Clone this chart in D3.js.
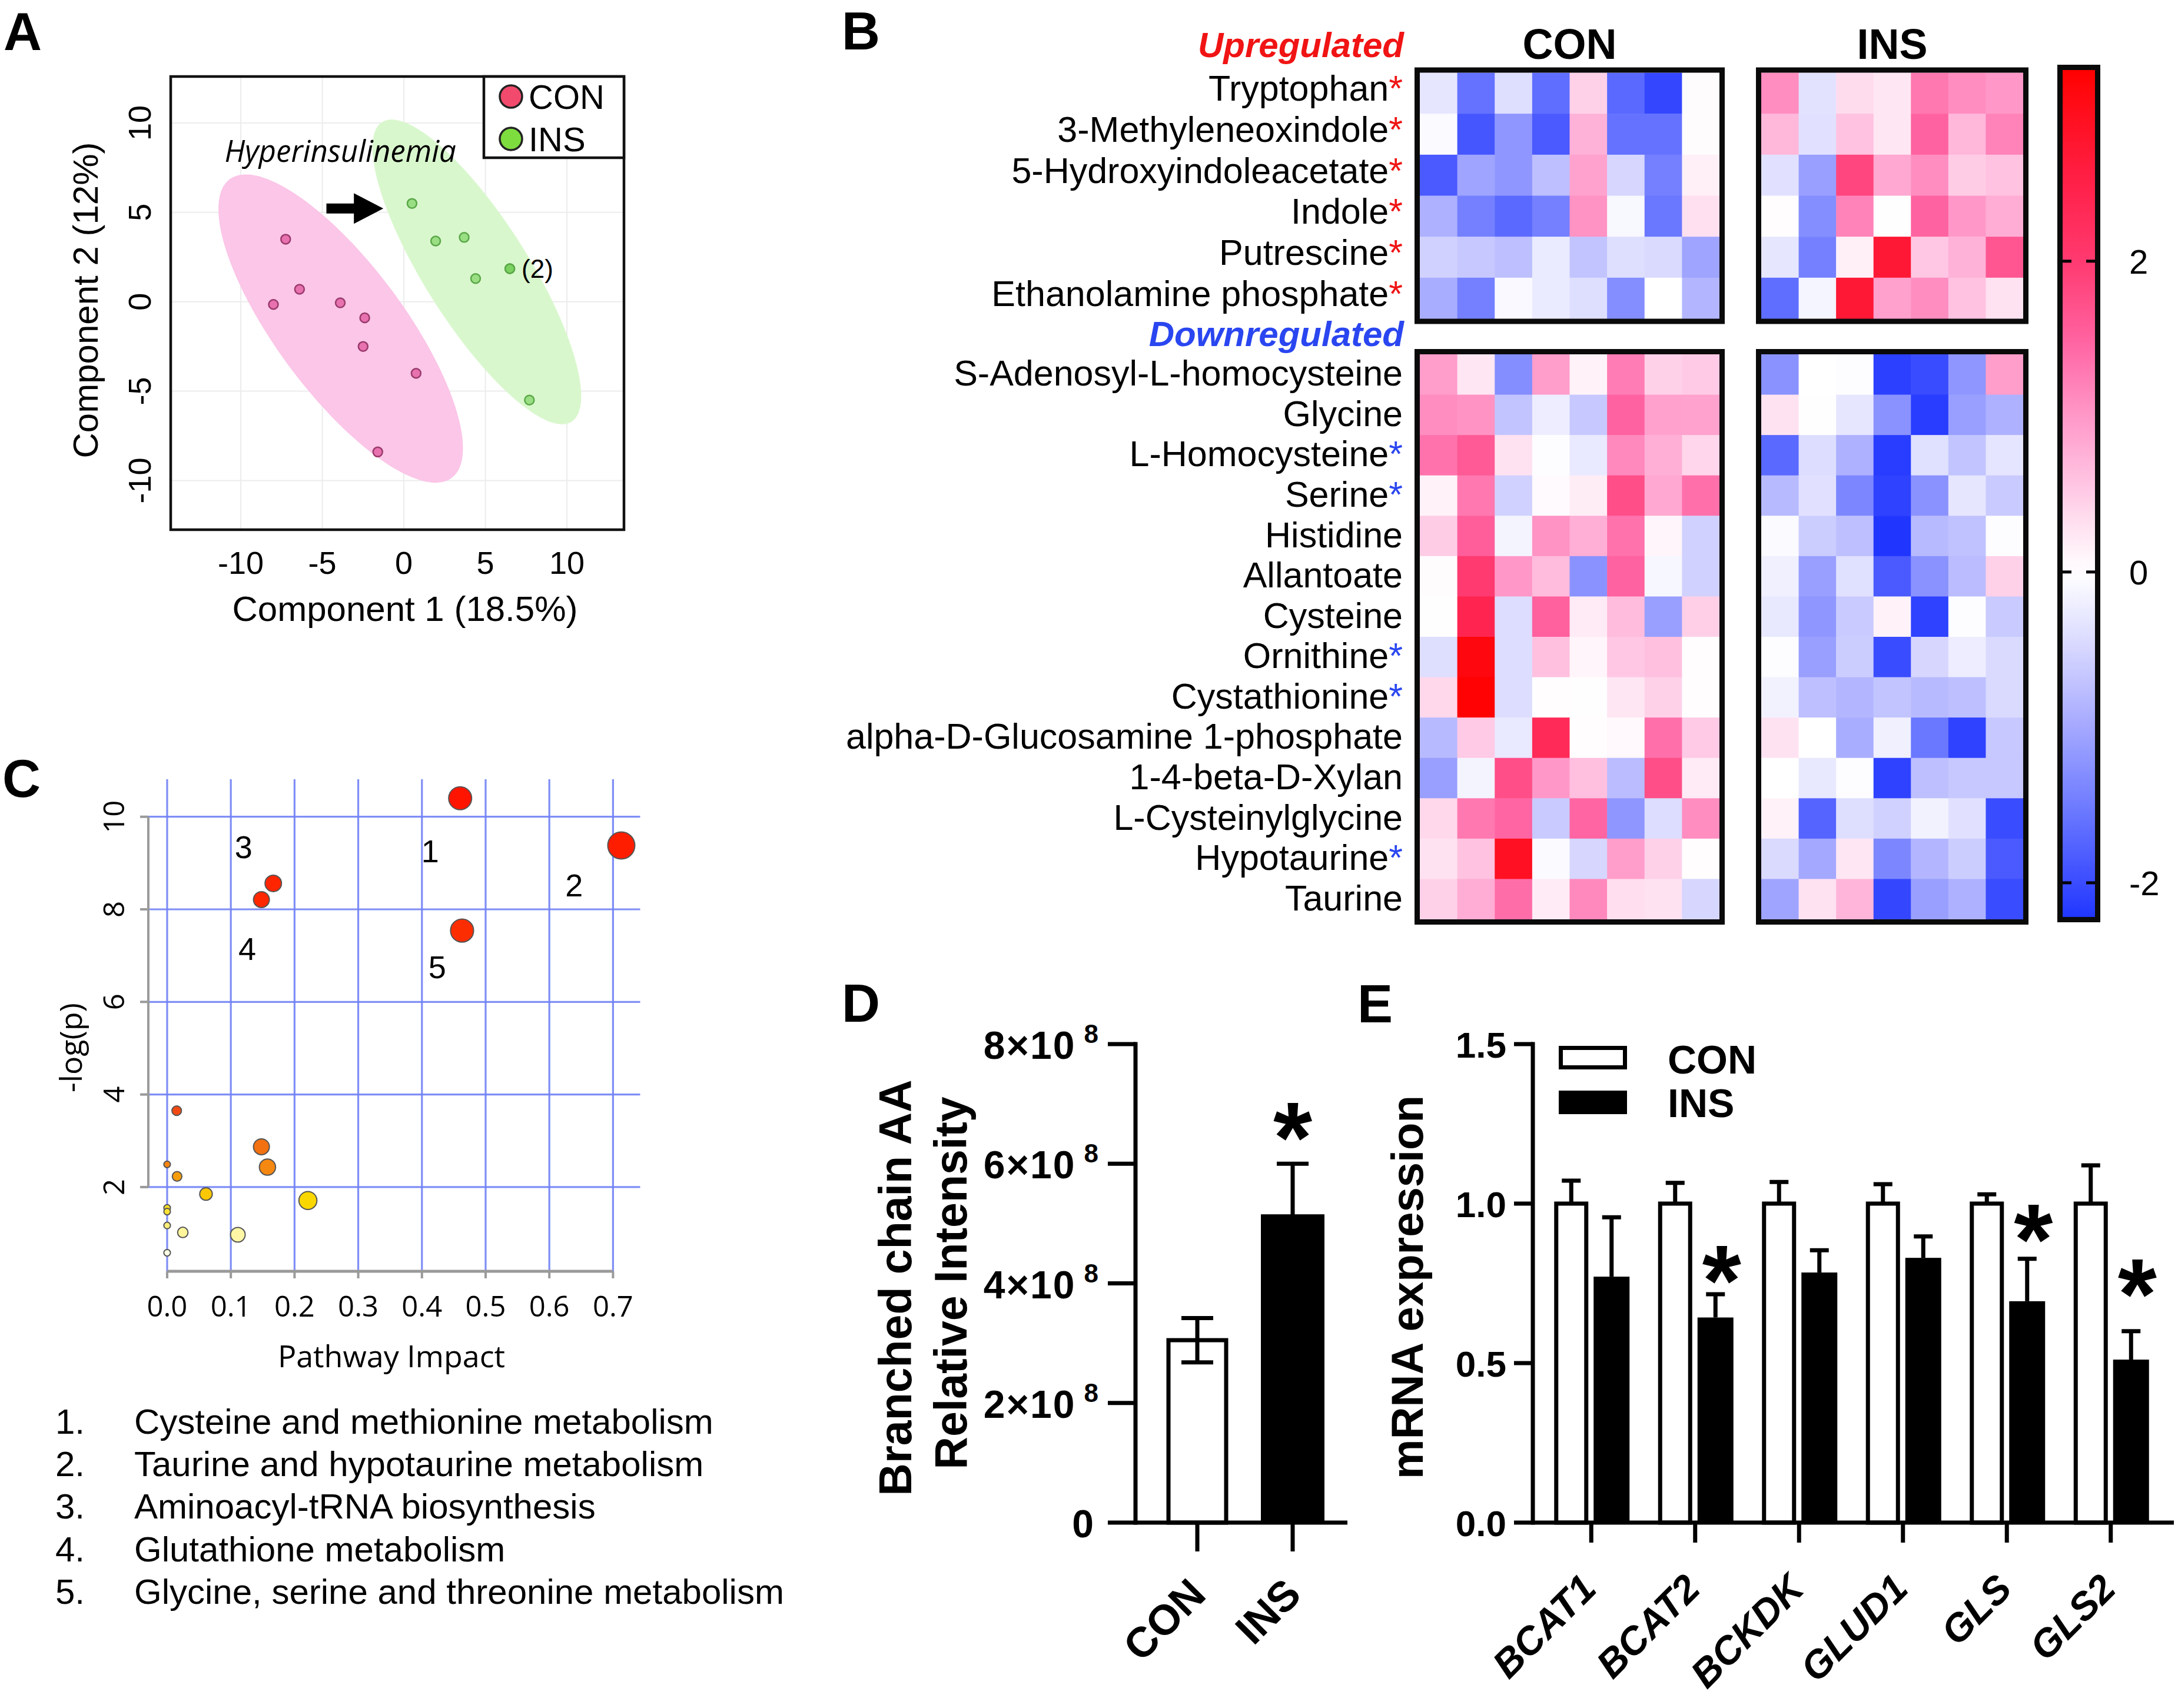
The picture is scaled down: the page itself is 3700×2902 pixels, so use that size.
<!DOCTYPE html>
<html><head><meta charset="utf-8">
<script src="https://cdn.jsdelivr.net/npm/d3@7"></script>
<style>body{margin:0;background:#fff}</style>
</head><body>
<svg id="chart" width="3700" height="2902" xmlns="http://www.w3.org/2000/svg"></svg>
<script>
// ---------------- DATA ----------------
// Panel A (PLS-DA scores)
const pcaTicks = [-10, -5, 0, 5, 10];
const conScores = [[-7.25,3.5],[-6.4,0.7],[-8.0,-0.15],[-3.9,-0.06],[-2.4,-0.9],[-2.5,-2.5],[0.75,-4.0],[-1.6,-8.4]];
const insScores = [[0.5,5.5],[1.95,3.4],[3.7,3.6],[6.5,1.85],[6.5,1.85],[4.4,1.3],[7.7,-5.5]];
// ellipse: [cx, cy, ax, ay, bx, by] in data units (centre + two conjugate half-axes)
const ellipseCON = [-3.875, -1.5, 6.72, -8.41, 3.33, 1.90];
const ellipseINS = [4.475, 1.67, 5.75, -8.41, 2.815, 1.37];
const arrowA = [-4.75, -1.26, 5.22];
const annotHyper = [-11.0, 7.81, "Hyperinsulinemia"];
const annotTwo = [7.22, 1.35, "(2)"];
const legendGroups = ["CON", "INS"];

// Panel B (heatmap)
const upNames = ["Tryptophan","3-Methyleneoxindole","5-Hydroxyindoleacetate","Indole","Putrescine","Ethanolamine phosphate"];
const upSig = [1,1,1,1,1,1];
const downNames = ["S-Adenosyl-L-homocysteine","Glycine","L-Homocysteine","Serine","Histidine","Allantoate","Cysteine","Ornithine","Cystathionine","alpha-D-Glucosamine 1-phosphate","1-4-beta-D-Xylan","L-Cysteinylglycine","Hypotaurine","Taurine"];
const downSig = [0,0,1,1,0,0,0,1,1,0,0,0,1,0];
const conUp = [
 [-0.3,-1.6,-0.4,-1.65,0.45,-1.7,-2.05,0.03],
 [-0.05,-1.9,-1.2,-1.85,0.75,-1.6,-1.6,0.03],
 [-1.85,-1.05,-1.2,-0.75,0.9,-0.5,-1.45,0.15],
 [-0.9,-1.45,-1.7,-1.45,1.05,-0.08,-1.55,0.3],
 [-0.55,-0.65,-0.75,-0.25,-0.7,-0.4,-0.45,-1.05],
 [-0.95,-1.45,-0.07,-0.25,-0.4,-1.3,0,-0.85]];
const insUp = [
 [1.1,-0.35,0.35,0.25,1.3,1.1,1.0],
 [0.7,-0.37,0.6,0.25,1.5,0.7,1.2],
 [-0.37,-1.1,1.85,0.85,1.1,0.5,0.6],
 [0.02,-1.3,1.2,0.01,1.5,1.0,0.8],
 [-0.3,-1.45,0.15,2.7,0.55,0.75,1.65],
 [-1.65,-0.12,2.7,0.92,1.1,0.6,0.28]];
const conDown = [
 [0.95,0.25,-1.3,0.95,0.12,1.25,0.45,0.52],
 [1.1,1.05,-0.7,-0.22,-0.65,1.5,0.92,0.9],
 [1.35,1.6,0.28,-0.03,-0.27,1.15,0.78,0.4],
 [0.13,1.3,-0.55,0.05,0.18,1.75,0.85,1.37],
 [0.5,1.55,-0.14,1.05,0.78,1.35,0.1,-0.55],
 [0.03,2.0,1.0,0.65,-1.25,1.5,-0.1,-0.55],
 [0.01,2.4,-0.42,1.52,0.2,0.65,-1.1,0.47],
 [-0.4,3.1,-0.42,0.62,0.1,0.55,0.62,0.02],
 [0.38,3.2,-0.42,0.02,0.01,0.25,0.45,0.02],
 [-0.8,0.52,-0.27,2.3,0.02,0.07,1.37,0.52],
 [-1.1,-0.14,1.75,1.0,0.62,-0.78,1.75,0.2],
 [0.38,1.3,1.47,-0.63,1.47,-1.2,-0.42,1.1],
 [0.28,0.6,2.9,-0.05,-0.5,0.95,0.45,0.02],
 [0.45,0.8,1.4,0.2,1.15,0.32,0.28,-0.5]];
const insDown = [
 [-1.25,0,-0.02,-2.12,-2.0,-1.2,0.95],
 [0.28,0.01,-0.3,-1.25,-2.15,-1.1,-0.9],
 [-1.7,-0.42,-0.9,-2.15,-0.38,-0.7,-0.32],
 [-0.8,-0.37,-1.38,-2.1,-1.25,-0.3,-0.63],
 [-0.05,-0.6,-0.75,-2.22,-0.8,-0.72,-0.02],
 [-0.18,-1.1,-0.38,-1.85,-1.25,-0.78,0.45],
 [-0.28,-1.2,-0.63,0.12,-2.1,-0.02,-0.63],
 [-0.02,-1.1,-0.6,-2.0,-0.5,-0.22,-0.45],
 [-0.16,-0.75,-0.85,-0.7,-0.8,-0.75,-0.45],
 [0.28,0,-0.95,-0.18,-1.55,-2.1,-0.65],
 [0,-0.28,-0.02,-2.1,-0.75,-0.65,-0.65],
 [0.12,-1.75,-0.4,-0.55,-0.16,-0.37,-2.0],
 [-0.45,-1.0,0.25,-1.38,-0.85,-0.6,-1.85],
 [-1.05,0.28,0.72,-2.05,-1.1,-0.9,-2.0]];
const colorbarTicks = [2, 0, -2];
const colorDomain = [-2.22, 3.23];

// Panel C (pathway analysis)
const pathImpact = [0.46,0.713,0.1666,0.148,0.463,0.015,0.148,0.1575,0.0,0.0156,0.061,0.221,0.0,0.0,0.0,0.0246,0.111,0.0];
const pathLogP   = [10.40,9.38,8.56,8.21,7.54,3.65,2.87,2.43,2.49,2.23,1.85,1.71,1.55,1.47,1.17,1.02,0.97,0.58];
const impactTicks = [0,0.1,0.2,0.3,0.4,0.5,0.6,0.7];
const logpTicks = [2,4,6,8,10];
const pathLabelText = ["1","2","3","4","5"];
const pathLabelX = [0.413,0.639,0.12,0.1257,0.424];
const pathLabelY = [9.02,8.28,9.11,6.91,6.51];
const pathwayNames = ["Cysteine and methionine metabolism","Taurine and hypotaurine metabolism","Aminoacyl-tRNA biosynthesis","Glutathione metabolism","Glycine, serine and threonine metabolism"];

// Panel D (BCAA)
const groupsD = ["CON","INS"];
const bcaaMean = [3.05e8, 5.12e8];
const bcaaErr = [0.37e8, 0.88e8];
const bcaaTicks = [0, 2e8, 4e8, 6e8, 8e8];
const bcaaStar = [null, 6.79e8];

// Panel E (mRNA)
const genes = ["BCAT1","BCAT2","BCKDK","GLUD1","GLS","GLS2"];
const conMean = [1,1,1,1,1,1];
const conErr = [0.072,0.065,0.068,0.061,0.029,0.12];
const insMean = [0.771,0.643,0.784,0.83,0.694,0.511];
const insErr = [0.186,0.073,0.07,0.067,0.133,0.089];
const geneStar = [null,0.825,null,null,0.954,0.782];
const mrnaTicks = [0,0.5,1.0,1.5];

// ---------------- DRAW ----------------
const ARIAL = '"Liberation Sans", Arial, Helvetica, sans-serif';
const OPEN = '"Open Sans", "Liberation Sans", sans-serif';
const svg = d3.select("#chart");
svg.append("rect").attr("width",3700).attr("height",2902).attr("fill","#fff");

// panel letters
[["A",6,85],["B",1430,84],["C",4,1354],["D",1430,1736],["E",2306,1737]].forEach(([t,x,y])=>{
  svg.append("text").attr("x",x).attr("y",y).attr("font-family",ARIAL).attr("font-weight","bold").attr("font-size",90).text(t);
});

// ===== Panel A =====
(function(){
  const x = d3.scaleLinear().domain([-14.3, 13.5]).range([290, 1060]);
  const y = d3.scaleLinear().domain([-12.75, 12.6]).range([900, 130]);
  const g = svg.append("g").attr("font-family", ARIAL);
  g.selectAll(".gx").data(pcaTicks).join("line")
    .attr("x1",d=>x(d)).attr("x2",d=>x(d)).attr("y1",y.range()[0]).attr("y2",y.range()[1])
    .attr("stroke","#ececec").attr("stroke-width",2);
  g.selectAll(".gy").data(pcaTicks).join("line")
    .attr("y1",d=>y(d)).attr("y2",d=>y(d)).attr("x1",x.range()[0]).attr("x2",x.range()[1])
    .attr("stroke","#ececec").attr("stroke-width",2);
  const ell = e => d3.range(0, 360, 3).map(a => {const t=a*Math.PI/180; return [e[0]+e[2]*Math.cos(t)+e[4]*Math.sin(t), e[1]+e[3]*Math.cos(t)+e[5]*Math.sin(t)];});
  const line = d3.line().x(d=>x(d[0])).y(d=>y(d[1])).curve(d3.curveCardinalClosed);
  g.append("path").attr("d", line(ell(ellipseCON))).attr("fill","#fbc6e8");
  g.append("path").attr("d", line(ell(ellipseINS))).attr("fill","#d9f7cd");
  g.selectAll(".pc").data(conScores).join("circle")
    .attr("cx",d=>x(d[0])).attr("cy",d=>y(d[1])).attr("r",8)
    .attr("fill","#e0509a").attr("fill-opacity",0.72).attr("stroke","#9a3a6c").attr("stroke-width",2.5);
  g.selectAll(".pi").data(insScores).join("circle")
    .attr("cx",d=>x(d[0])).attr("cy",d=>y(d[1])).attr("r",8)
    .attr("fill","#5cc63c").attr("fill-opacity",0.5).attr("stroke","#5aa848").attr("stroke-width",2.5);
  // arrow
  g.append("line").attr("x1",x(arrowA[0])).attr("x2",x(arrowA[1])-45).attr("y1",y(arrowA[2])).attr("y2",y(arrowA[2]))
    .attr("stroke","#000").attr("stroke-width",17);
  g.append("path").attr("d",`M${x(arrowA[1])},${y(arrowA[2])} L${x(arrowA[1])-50},${y(arrowA[2])-26} L${x(arrowA[1])-50},${y(arrowA[2])+26} Z`).attr("fill","#000");
  g.append("text").attr("x",x(annotHyper[0])).attr("y",y(annotHyper[1])).attr("font-family",OPEN).attr("font-style","italic")
    .attr("font-size",51).text(annotHyper[2]);
  g.append("text").attr("x",x(annotTwo[0])).attr("y",y(annotTwo[1])).attr("font-size",44).text(annotTwo[2]);
  // box
  g.append("rect").attr("x",290).attr("y",130).attr("width",770).attr("height",770).attr("fill","none").attr("stroke","#111").attr("stroke-width",4.5);
  // legend
  g.append("rect").attr("x",822).attr("y",130).attr("width",238).attr("height",138).attr("fill","#fff").attr("stroke","#111").attr("stroke-width",4.5);
  const legCol = ["#f24a6c","#7ddc3e"];
  legendGroups.forEach((t,i)=>{
    g.append("circle").attr("cx",868).attr("cy",164+i*72).attr("r",19).attr("fill",legCol[i]).attr("stroke","#222").attr("stroke-width",3.5);
    g.append("text").attr("x",898).attr("y",185+i*72).attr("font-size",58).text(t);
  });
  // tick labels
  g.selectAll(".tx").data(pcaTicks).join("text").attr("x",d=>x(d)).attr("y",975).attr("text-anchor","middle").attr("font-size",54).text(d=>d);
  g.selectAll(".ty").data(pcaTicks).join("text").attr("transform",d=>`translate(256,${y(d)}) rotate(-90)`).attr("text-anchor","middle").attr("font-size",54).text(d=>d);
  g.append("text").attr("x",688).attr("y",1055).attr("text-anchor","middle").attr("font-size",60).text("Component 1 (18.5%)");
  g.append("text").attr("transform","translate(166,510) rotate(-90)").attr("text-anchor","middle").attr("font-size",60).text("Component 2 (12%)");
})();

// ===== Panel B =====
(function(){
  const g = svg.append("g").attr("font-family", ARIAL);
  const color = d3.scaleLinear()
    .domain([-2.22,-2,-1.5,-1,-0.5,0,0.5,1,1.5,2,2.5,3,3.23])
    .range(["#2036ff","#3a4cff","#6f7cff","#a4a8ff","#d6d6ff","#ffffff","#ffcce6","#ff98c8","#ff62a0","#ff3a70","#ff2048","#ff0c18","#ff0000"])
    .clamp(true);
  function block(mat, names, xr, yr){
    const xs = d3.scaleBand().domain(d3.range(mat[0].length)).range(xr);
    const ys = d3.scaleBand().domain(names).range(yr);
    const cells = [];
    mat.forEach((row,i)=>row.forEach((v,j)=>cells.push({r:names[i],c:j,v})));
    g.append("g").selectAll("rect").data(cells).join("rect")
      .attr("x",d=>xs(d.c)).attr("y",d=>ys(d.r)).attr("width",xs.bandwidth()+0.6).attr("height",ys.bandwidth()+0.6)
      .attr("fill",d=>color(d.v));
    g.append("rect").attr("x",xr[0]-4.5).attr("y",yr[0]-4.5).attr("width",xr[1]-xr[0]+9).attr("height",yr[1]-yr[0]+9)
      .attr("fill","none").attr("stroke","#0a0a0a").attr("stroke-width",9);
    return ys;
  }
  const upY = [123.5, 541.5], downY = [602, 1562];
  const conX = [2412, 2921], insX = [2992, 3437];
  const ysUp = block(conUp, upNames, conX, upY);
  block(insUp, upNames, insX, upY);
  const ysDown = block(conDown, downNames, conX, downY);
  block(insDown, downNames, insX, downY);
  g.append("text").attr("x",(conX[0]+conX[1])/2).attr("y",100).attr("text-anchor","middle").attr("font-weight","bold").attr("font-size",72).text("CON");
  g.append("text").attr("x",(insX[0]+insX[1])/2).attr("y",100).attr("text-anchor","middle").attr("font-weight","bold").attr("font-size",72).text("INS");
  g.append("text").attr("x",2385).attr("y",97).attr("text-anchor","end").attr("font-weight","bold").attr("font-style","italic").attr("font-size",60).attr("fill","#f01414").text("Upregulated");
  g.append("text").attr("x",2385).attr("y",588).attr("text-anchor","end").attr("font-weight","bold").attr("font-style","italic").attr("font-size",60).attr("fill","#2a46f0").text("Downregulated");
  function labels(names, sig, ys, starCol, off){
    names.forEach((n,i)=>{
      const t = g.append("text").attr("x",2383).attr("y",ys(n)+ys.bandwidth()/2+off).attr("text-anchor","end").attr("font-size",61);
      t.append("tspan").text(n);
      if(sig[i]) t.append("tspan").attr("fill",starCol).text("*");
    });
  }
  labels(upNames, upSig, ysUp, "#f01414", 13);
  labels(downNames, downSig, ysDown, "#2a46f0", 19);
  // colour bar
  const cb = d3.scaleLinear().domain(colorDomain).range([1558, 119]);
  const defs = svg.append("defs");
  const grad = defs.append("linearGradient").attr("id","cbgrad").attr("x1",0).attr("x2",0).attr("y1",0).attr("y2",1);
  d3.range(0, 1.0001, 0.02).forEach(o=>{
    const v = cb.invert(119 + o*(1558-119));
    grad.append("stop").attr("offset",o).attr("stop-color",color(v));
  });
  g.append("rect").attr("x",3504).attr("y",119).attr("width",55).attr("height",1439).attr("fill","url(#cbgrad)");
  g.append("rect").attr("x",3499.5).attr("y",114.5).attr("width",64).attr("height",1448).attr("fill","none").attr("stroke","#0a0a0a").attr("stroke-width",9);
  colorbarTicks.forEach(v=>{
    g.append("line").attr("x1",3504).attr("x2",3519).attr("y1",cb(v)).attr("y2",cb(v)).attr("stroke","#000").attr("stroke-width",5);
    g.append("line").attr("x1",3544).attr("x2",3559).attr("y1",cb(v)).attr("y2",cb(v)).attr("stroke","#000").attr("stroke-width",5);
    g.append("text").attr("x",3617).attr("y",cb(v)+21).attr("font-size",58).text(v);
  });
})();

// ===== Panel C =====
(function(){
  const x = d3.scaleLinear().domain([-0.042, 0.7426]).range([238.5, 1087.5]);
  const y = d3.scaleLinear().domain([0.18, 10.81]).range([2160, 1324]);
  const g = svg.append("g").attr("font-family", OPEN);
  const gridCol = "#7282f6";
  g.selectAll(".vg").data(impactTicks).join("line").attr("x1",d=>x(d)).attr("x2",d=>x(d)).attr("y1",y.range()[0]).attr("y2",y.range()[1])
    .attr("stroke",gridCol).attr("stroke-width",3.2).attr("opacity",0.9);
  g.selectAll(".hg").data(logpTicks).join("line").attr("y1",d=>y(d)).attr("y2",d=>y(d)).attr("x1",x.range()[0]).attr("x2",x.range()[1])
    .attr("stroke",gridCol).attr("stroke-width",3.2).attr("opacity",0.9);
  // axes (gray)
  g.append("line").attr("x1",x(0)-32).attr("x2",x(0)-32).attr("y1",y(10)).attr("y2",y(2)).attr("stroke","#9a9a9a").attr("stroke-width",4);
  g.selectAll(".yt").data(logpTicks).join("line").attr("x1",x(0)-46).attr("x2",x(0)-32).attr("y1",d=>y(d)).attr("y2",d=>y(d)).attr("stroke","#9a9a9a").attr("stroke-width",4);
  g.append("line").attr("x1",x(0)).attr("x2",x(0.7)).attr("y1",2160).attr("y2",2160).attr("stroke","#9a9a9a").attr("stroke-width",5);
  g.selectAll(".xt").data(impactTicks).join("line").attr("x1",d=>x(d)).attr("x2",d=>x(d)).attr("y1",2160).attr("y2",2172).attr("stroke","#9a9a9a").attr("stroke-width",4);
  const rS = d3.scaleSqrt().domain([0, 0.713]).range([0, 17.4]);
  const col = d3.scaleLinear().domain([0.5,1.0,1.7,2.4,3.6,8,10.4])
    .range(["#fffff2","#fff7a0","#fbd800","#f58a10","#f04a12","#ff2a00","#ff1400"]).clamp(true);
  const pts = pathImpact.map((v,i)=>({x:v,y:pathLogP[i]}));
  g.selectAll(".pt").data(pts).join("circle").attr("cx",d=>x(d.x)).attr("cy",d=>y(d.y)).attr("r",d=>5.6+rS(d.x))
    .attr("fill",d=>col(d.y)).attr("stroke","#555").attr("stroke-width",2);
  g.selectAll(".pl").data(pathLabelText).join("text").attr("x",(d,i)=>x(pathLabelX[i])).attr("y",(d,i)=>y(pathLabelY[i]))
    .attr("text-anchor","middle").attr("font-family",ARIAL).attr("font-size",54).text(d=>d);
  g.selectAll(".xl").data(impactTicks).join("text").attr("x",d=>x(d)).attr("y",2237).attr("text-anchor","middle").attr("font-size",49).text(d=>d3.format(".1f")(d));
  g.selectAll(".yl").data(logpTicks).join("text").attr("transform",d=>`translate(211,${y(d)}) rotate(-90)`).attr("text-anchor","middle").attr("font-size",49).text(d=>d);
  g.append("text").attr("x",665).attr("y",2323).attr("text-anchor","middle").attr("font-size",52).text("Pathway Impact");
  g.append("text").attr("transform","translate(139,1780) rotate(-90)").attr("text-anchor","middle").attr("font-size",52).text("-log(p)");
  // pathway list
  const gl = svg.append("g").attr("font-family",ARIAL).attr("font-size",60);
  pathwayNames.forEach((n,i)=>{
    gl.append("text").attr("x",94).attr("y",2436+i*72.2).text(`${i+1}.`);
    gl.append("text").attr("x",228).attr("y",2436+i*72.2).text(n);
  });
})();

// ===== Panel D =====
(function(){
  const g = svg.append("g").attr("font-family", ARIAL).attr("font-weight","bold");
  const y = d3.scaleLinear().domain([0, 8e8]).range([2587, 1774]);
  const x = d3.scaleBand().domain(groupsD).range([1953, 2277]);
  const cx = d => x(d)+x.bandwidth()/2;
  const SW = 7;
  // bars
  groupsD.forEach((gname,i)=>{
    const c = cx(gname);
    if(i===0){
      g.append("rect").attr("x",c-49).attr("y",y(bcaaMean[i])).attr("width",98).attr("height",y(0)-y(bcaaMean[i]))
        .attr("fill","#fff").attr("stroke","#000").attr("stroke-width",SW);
    } else {
      g.append("rect").attr("x",c-54).attr("y",y(bcaaMean[i])-3.5).attr("width",108).attr("height",y(0)-y(bcaaMean[i])+3.5).attr("fill","#000");
    }
    g.append("line").attr("x1",c).attr("x2",c).attr("y1",y(bcaaMean[i]-bcaaErr[i])).attr("y2",y(bcaaMean[i]+bcaaErr[i])).attr("stroke","#000").attr("stroke-width",SW);
    g.append("line").attr("x1",c-27).attr("x2",c+27).attr("y1",y(bcaaMean[i]+bcaaErr[i])).attr("y2",y(bcaaMean[i]+bcaaErr[i])).attr("stroke","#000").attr("stroke-width",SW);
    if(i===0) g.append("line").attr("x1",c-27).attr("x2",c+27).attr("y1",y(bcaaMean[i]-bcaaErr[i])).attr("y2",y(bcaaMean[i]-bcaaErr[i])).attr("stroke","#000").attr("stroke-width",SW);
    if(bcaaStar[i]!==null) g.append("text").attr("x",c).attr("y",y(bcaaStar[i])+95).attr("text-anchor","middle").attr("font-size",170).text("*");
    // x tick
    g.append("line").attr("x1",c).attr("x2",c).attr("y1",2587).attr("y2",2636).attr("stroke","#000").attr("stroke-width",SW);
    g.append("text").attr("transform",`translate(${c+18},2713) rotate(-45)`).attr("text-anchor","end").attr("font-size",72).text(gname);
  });
  // axes
  g.append("line").attr("x1",1929).attr("x2",1929).attr("y1",y(8e8)-3.5).attr("y2",y(0)+3.5).attr("stroke","#000").attr("stroke-width",SW);
  g.append("line").attr("x1",1929).attr("x2",2289).attr("y1",y(0)).attr("y2",y(0)).attr("stroke","#000").attr("stroke-width",SW);
  bcaaTicks.forEach(v=>{
    g.append("line").attr("x1",1882).attr("x2",1929).attr("y1",y(v)).attr("y2",y(v)).attr("stroke","#000").attr("stroke-width",SW);
    const t = g.append("text").attr("x",v===0?1860:1868).attr("y",y(v)+25).attr("text-anchor","end").attr("font-size",66).attr("letter-spacing",2);
    if(v===0) t.text("0");
    else { t.append("tspan").text(`${v/1e8}×10`); t.append("tspan").attr("dx",14).attr("dy",-27).attr("font-size",44).text("8"); }
  });
  g.append("text").attr("transform","translate(1548,2188) rotate(-90)").attr("text-anchor","middle").attr("font-size",77).text("Branched chain AA");
  g.append("text").attr("transform","translate(1642,2180) rotate(-90)").attr("text-anchor","middle").attr("font-size",77).text("Relative Intensity");
})();

// ===== Panel E =====
(function(){
  const g = svg.append("g").attr("font-family", ARIAL).attr("font-weight","bold");
  const y = d3.scaleLinear().domain([0, 1.5]).range([2587, 1774]);
  const x = d3.scaleBand().domain(genes).range([2615, 3674]);
  const SW = 7;
  genes.forEach((gn,i)=>{
    const c = x(gn)+x.bandwidth()/2;
    // CON bar
    const cc = c-34;
    g.append("line").attr("x1",cc).attr("x2",cc).attr("y1",y(conMean[i])).attr("y2",y(conMean[i]+conErr[i])).attr("stroke","#000").attr("stroke-width",SW);
    g.append("line").attr("x1",cc-16).attr("x2",cc+16).attr("y1",y(conMean[i]+conErr[i])).attr("y2",y(conMean[i]+conErr[i])).attr("stroke","#000").attr("stroke-width",SW);
    g.append("rect").attr("x",c-59.5).attr("y",y(conMean[i])).attr("width",51).attr("height",y(0)-y(conMean[i]))
      .attr("fill","#fff").attr("stroke","#000").attr("stroke-width",SW);
    // INS bar
    const ic = c+34.5;
    g.append("line").attr("x1",ic).attr("x2",ic).attr("y1",y(insMean[i])).attr("y2",y(insMean[i]+insErr[i])).attr("stroke","#000").attr("stroke-width",SW);
    g.append("line").attr("x1",ic-16).attr("x2",ic+16).attr("y1",y(insMean[i]+insErr[i])).attr("y2",y(insMean[i]+insErr[i])).attr("stroke","#000").attr("stroke-width",SW);
    g.append("rect").attr("x",c+4).attr("y",y(insMean[i])).attr("width",61).attr("height",y(0)-y(insMean[i])).attr("fill","#000");
    if(geneStar[i]!==null) g.append("text").attr("x",c+45).attr("y",y(geneStar[i])+95).attr("text-anchor","middle").attr("font-size",170).text("*");
    g.append("line").attr("x1",c).attr("x2",c).attr("y1",2587).attr("y2",2621).attr("stroke","#000").attr("stroke-width",SW);
    g.append("text").attr("transform",`translate(${c+12},2703) rotate(-45)`).attr("text-anchor","end").attr("font-style","italic").attr("font-size",66).text(gn);
  });
  g.append("line").attr("x1",2604).attr("x2",2604).attr("y1",y(1.5)-3.5).attr("y2",y(0)+3.5).attr("stroke","#000").attr("stroke-width",SW);
  g.append("line").attr("x1",2604).attr("x2",3693).attr("y1",y(0)).attr("y2",y(0)).attr("stroke","#000").attr("stroke-width",SW);
  mrnaTicks.forEach(v=>{
    g.append("line").attr("x1",2572).attr("x2",2604).attr("y1",y(v)).attr("y2",y(v)).attr("stroke","#000").attr("stroke-width",SW);
    g.append("text").attr("x",2559).attr("y",y(v)+23).attr("text-anchor","end").attr("font-size",62).text(d3.format(".1f")(v));
  });
  g.append("text").attr("transform","translate(2417,2187) rotate(-90)").attr("text-anchor","middle").attr("font-size",76).text("mRNA expression");
  // legend
  g.append("rect").attr("x",2651.5).attr("y",1780.5).attr("width",109).attr("height",33).attr("fill","#fff").attr("stroke","#000").attr("stroke-width",SW);
  g.append("rect").attr("x",2648).attr("y",1853).attr("width",116).attr("height",40).attr("fill","#000");
  g.append("text").attr("x",2833).attr("y",1824).attr("font-size",68).text("CON");
  g.append("text").attr("x",2833).attr("y",1898).attr("font-size",68).text("INS");
})();
</script>
</body></html>
